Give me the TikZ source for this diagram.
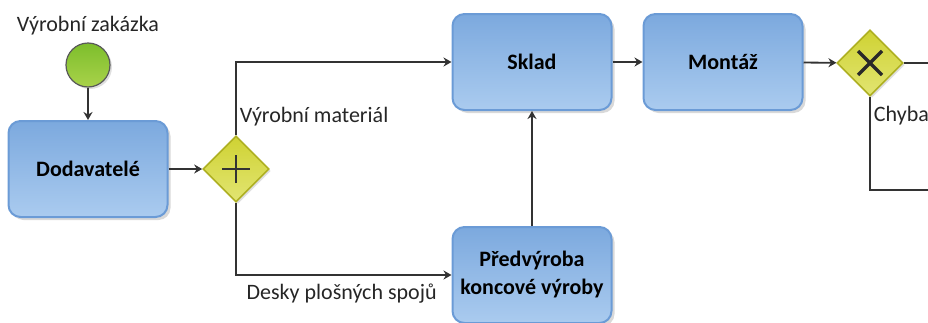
\documentclass[tikz,border=0pt]{standalone}
\usepackage{fontspec}
\setmainfont{Carlito}
\usetikzlibrary{positioning, shapes.geometric, shadows, arrows.meta}
\definecolor{taskline}{HTML}{6B9BD6}
\definecolor{tasktop}{HTML}{7CA9DE}
\definecolor{taskbottom}{HTML}{AACBEF}
\definecolor{gatetop}{HTML}{CFD233}
\definecolor{gatebottom}{HTML}{E2E572}
\definecolor{gateline}{HTML}{AEB022}
\definecolor{starttop}{HTML}{7DBE2C}
\definecolor{startbottom}{HTML}{A9D24A}
\definecolor{flow}{HTML}{333333}
\tikzset{
	>={Stealth[length=4pt,width=4.5pt]}, % small solid arrow heads
	every edge/.style={draw, flow, line width=0.9pt}, % all connectors
	task/.style={rectangle, rounded corners=6pt, draw=taskline, line width=1pt,
		top color=tasktop, bottom color=taskbottom, minimum width=79.5pt,
		minimum height=48pt, align=center, font=\fontsize{11}{14}\selectfont\bfseries,
		drop shadow={opacity=0.3, shadow xshift=1.5pt, shadow yshift=-1.5pt}}, % activities
	gate/.style={diamond, aspect=1, minimum size=33pt, inner sep=0pt, draw=gateline,
		line width=0.8pt, top color=gatetop, bottom color=gatebottom,
		drop shadow={opacity=0.25, shadow xshift=1pt, shadow yshift=-1pt}}, % gateways
	andgate/.style={gate, path picture={
		\draw[flow, line width=1pt] ([xshift=-7pt]path picture bounding box.center) -- ++(14pt,0)
			([yshift=-7pt]path picture bounding box.center) -- ++(0,14pt);}},
	xorgate/.style={gate, path picture={
		\draw[flow!80!black, line width=1.6pt] ([shift={(-6pt,-6pt)}]path picture bounding box.center) -- ++(12pt,12pt)
			([shift={(-6pt,6pt)}]path picture bounding box.center) -- ++(12pt,-12pt);}},
	start/.style={circle, minimum size=22pt, inner sep=0pt, draw=black!65, line width=0.6pt,
		top color=starttop, bottom color=startbottom,
		drop shadow={opacity=0.25, shadow xshift=1pt, shadow yshift=-1pt}}, % start event
	lbl/.style={font=\fontsize{11}{14}\selectfont, text=black!85, inner sep=1.5pt}, % flow labels
}

\begin{document}
\begin{tikzpicture}[x=0.5pt, y=-0.5pt]
	\useasboundingbox (0,0) rectangle (928,322);
			\node[start] (zak) at (88,65) {};
			\node[lbl, above=2pt of zak] (zaktext) {Výrobní zakázka};
			\node[task] (dod) at (88,169) {Dodavatelé};
			\node[andgate] (par) at (236,169) {};
			\node[task] (sklad) at (532,62) {Sklad};
			\node[task] (pred) at (532,275) {Předvýroba\\koncové výroby};
			\node[task] (mont) at (723,62) {Montáž};
			\node[xorgate] (exc) at (870,63) {};
			\coordinate (ven) at (940,63);
			\coordinate (zpet) at (940,190);
	\draw 	(zak) edge[->] (dod)
			(dod) edge[->] (par)
			(par.north) edge[->, to path={|- (\tikztotarget) \tikztonodes}]
				node[lbl, pos=0.13, right] {Výrobní materiál} (sklad)
			(par.south) edge[->, to path={|- (\tikztotarget) \tikztonodes}]
				node[lbl, pos=0.745, below=2.5pt] {Desky plošných spojů} (pred)
			(pred) edge[->] (sklad)
			(sklad) edge[->] (mont)
			(mont) edge[->] (exc)
			(exc) edge (ven)
			(exc.south) edge[to path={|- (\tikztotarget) \tikztonodes}]
				node[lbl, pos=0.1, right] {Chyba} (zpet);
	\end{tikzpicture}
\end{document}
